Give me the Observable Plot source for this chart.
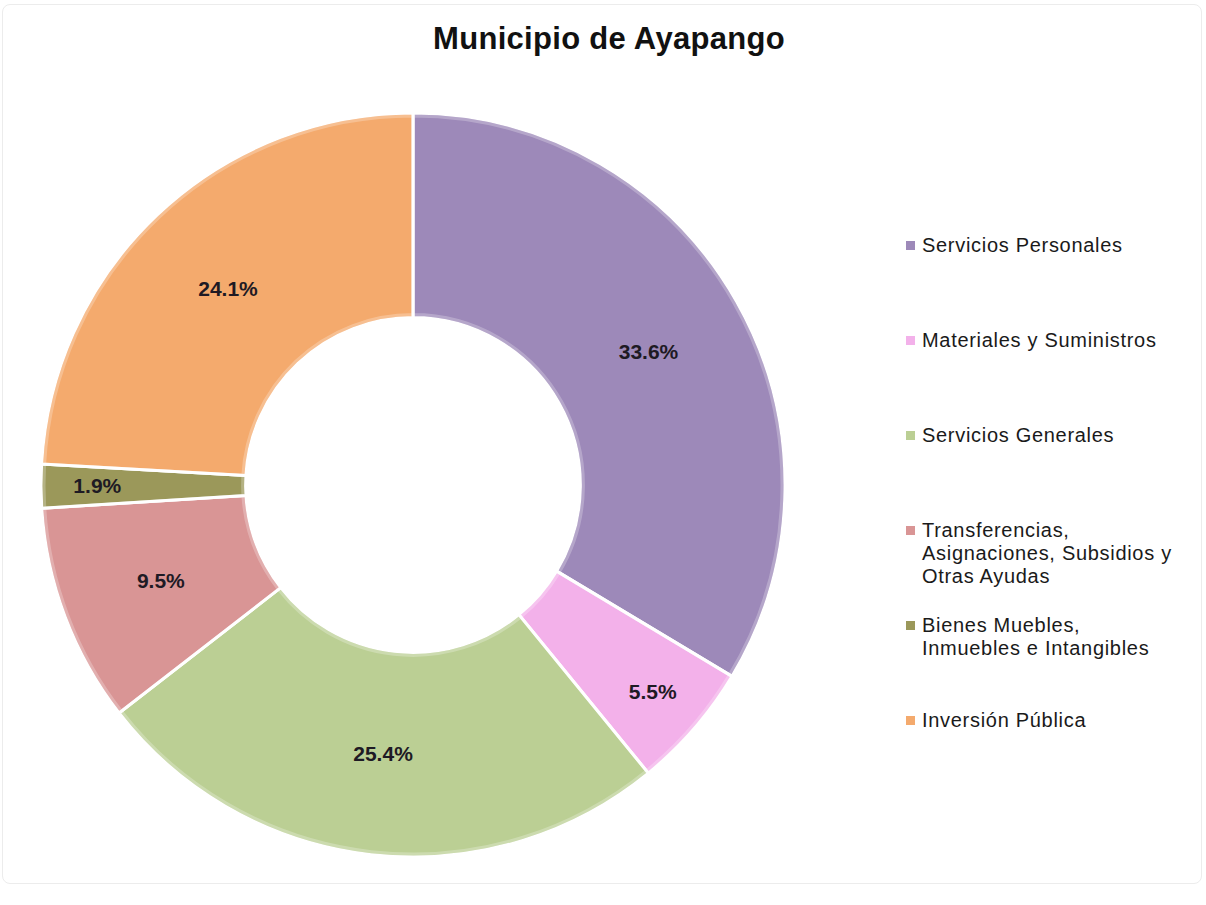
<!DOCTYPE html>
<html>
<head>
<meta charset="utf-8">
<script src="https://cdn.jsdelivr.net/npm/d3@7"></script>
<script src="https://cdn.jsdelivr.net/npm/@observablehq/plot@0.6"></script>
<style>
  body { margin: 0; background: #fff; font-family: "Liberation Sans", Arial, sans-serif; }
  #wrap { position: relative; width: 1206px; height: 905px; overflow: hidden; }
  #frame { position: absolute; left: 2px; top: 4px; width: 1198px; height: 878px; border: 1px solid #ececec; border-radius: 8px; }
  #title { position: absolute; left: 0; top: 20px; width: 1218px; text-align: center; font-size: 31px; font-weight: bold; line-height: 38px; color: #111; letter-spacing: 0.3px; }
  #chart { position: absolute; left: 0; top: 80px; }
  #legend { position: absolute; left: 906px; top: 234px; }
  .item { height: 95px; display: flex; align-items: flex-start; }
  .item:last-child { height: 89px; }
  .sw { width: 9px; height: 9px; margin-top: 7px; margin-right: 7px; flex: none; }
  .lab { font-size: 20px; line-height: 23px; color: #1a1a1a; white-space: pre-line; letter-spacing: 0.7px; }
</style>
</head>
<body>
<div id="wrap">
  <div id="frame"></div>
  <div id="title">Municipio de Ayapango</div>
  <div id="chart"></div>
  <div id="legend"></div>
</div>
<script>
const categories = [
  "Servicios Personales",
  "Materiales y Suministros",
  "Servicios Generales",
  "Transferencias,\nAsignaciones, Subsidios y\nOtras Ayudas",
  "Bienes Muebles,\nInmuebles e Intangibles",
  "Inversión Pública"
];
const values = [33.6, 5.5, 25.4, 9.5, 1.9, 24.1];
const colors = ["#9d89b9", "#f3b1ea", "#bbcf94", "#d99595", "#9b985a", "#f4aa6d"];

const data = categories.map((c, i) => ({category: c, value: values[i]}));
const INNER = 0.45;

const pie = d3.pie().sort(null).value(d => d.value);
const arcs = pie(data);
const total = d3.sum(values);

const labels = arcs.map(a => {
  const mid = (a.startAngle + a.endAngle) / 2;
  const share = a.data.value / total;
  const rr = share < 0.06 ? 0.85 : 0.726;
  return {label: a.data.value.toFixed(1) + "%", x: rr * Math.sin(mid), y: rr * Math.cos(mid), category: a.data.category};
});

function donut(index, scales) {
  const cx = scales.x(0), cy = scales.y(0), R = scales.x(1) - cx;
  const arc = d3.arc().innerRadius(R * INNER).outerRadius(R);
  const g = d3.create("svg:g").attr("transform", `translate(${cx},${cy})`);
  g.selectAll("path.s").data(arcs).join("path")
    .attr("class", "s")
    .attr("d", arc)
    .attr("fill", d => scales.color(d.data.category))
    .attr("stroke", "#ffffff")
    .attr("stroke-width", 3)
    .attr("stroke-linejoin", "round");
  const arc2 = d3.arc().innerRadius(R * INNER + 3).outerRadius(R - 3);
  g.selectAll("path.b").data(arcs).join("path")
    .attr("class", "b")
    .attr("d", arc2)
    .attr("fill", "none")
    .attr("stroke", "#ffffff")
    .attr("stroke-opacity", 0.25)
    .attr("stroke-width", 3);
  return g.node();
}

const chart = Plot.plot({
  width: 860,
  height: 820,
  margin: 0,
  x: {domain: [-1, 1], range: [41, 785], axis: null},
  y: {domain: [-1, 1], range: [777, 33], axis: null},
  color: {domain: categories, range: colors},
  marks: [
    Plot.dot(data, {x: () => 0, y: () => 0, fill: "category", r: 0}),
    donut,
    Plot.text(labels, {x: "x", y: "y", text: "label", fontSize: 21, fontWeight: "bold", fill: "#1e1a24", fontFamily: "Liberation Sans, Arial, sans-serif", style: {letterSpacing: "0.4px"}})
  ]
});
document.getElementById("chart").appendChild(chart);

const legend = d3.select("#legend");
const items = legend.selectAll("div.item").data(data).join("div").attr("class", "item");
items.append("div").attr("class", "sw").style("background", (d, i) => colors[i]);
items.append("div").attr("class", "lab").text(d => d.category);
</script>
</body>
</html>
